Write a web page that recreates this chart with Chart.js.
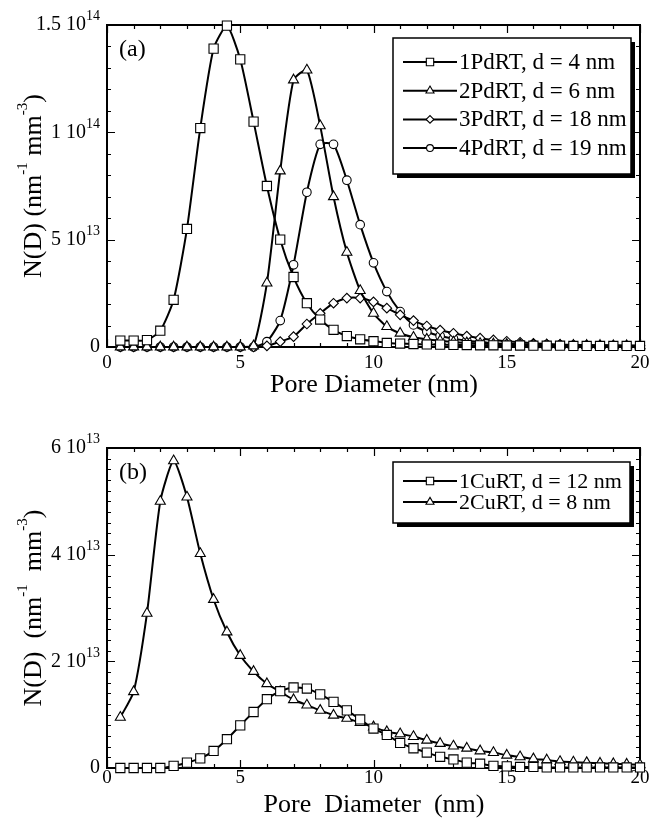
<!DOCTYPE html>
<html>
<head>
<meta charset="utf-8">
<script src="https://cdn.jsdelivr.net/npm/chart.js@4"></script>
<style>
  html, body { margin: 0; padding: 0; background: #fff; }
  #wrapA { position: absolute; left: 0; top: 0; width: 649px; height: 400px; }
  #wrapB { position: absolute; left: 0; top: 420px; width: 649px; height: 401px; }
</style>
</head>
<body>
<div id="wrapA"><canvas id="chartA"></canvas></div>
<div id="wrapB"><canvas id="chartB"></canvas></div>
<script>
const SERIF = '"Liberation Serif", "Times New Roman", serif'

// pore diameter (nm), shared by every series
const diameters = [0.5, 1, 1.5, 2, 2.5, 3, 3.5, 4, 4.5, 5, 5.5, 6, 6.5, 7, 7.5, 8, 8.5, 9, 9.5, 10,
  10.5, 11, 11.5, 12, 12.5, 13, 13.5, 14, 14.5, 15, 15.5, 16, 16.5, 17, 17.5, 18, 18.5, 19, 19.5, 20]

// panel (a), N(D) in units of 1e13 nm^-1 mm^-3
const pd1 = [0.30, 0.30, 0.32, 0.76, 2.2, 5.5, 10.2, 13.9, 14.97, 13.4, 10.5, 7.5, 5.0, 3.26, 2.04, 1.28, 0.8, 0.51, 0.36, 0.27,
  0.19, 0.16, 0.14, 0.12, 0.11, 0.10, 0.09, 0.08, 0.08, 0.07, 0.07, 0.06, 0.06, 0.06, 0.05, 0.05, 0.05, 0.05, 0.05, 0.05]
const pd2 = [0, 0, 0, 0, 0, 0, 0, 0, 0, 0, 0.05, 2.98, 8.2, 12.44, 12.9, 10.3, 7.0, 4.41, 2.63, 1.57,
  0.95, 0.64, 0.45, 0.36, 0.29, 0.23, 0.19, 0.16, 0.14, 0.12, 0.11, 0.10, 0.09, 0.08, 0.08, 0.07, 0.07, 0.06, 0.06, 0.06]
const pd3 = [0, 0, 0, 0, 0, 0, 0, 0, 0, 0, 0, 0.05, 0.25, 0.48, 1.07, 1.57, 2.04, 2.28, 2.28, 2.1,
  1.81, 1.5, 1.23, 0.98, 0.79, 0.64, 0.51, 0.41, 0.33, 0.27, 0.22, 0.17, 0.14, 0.12, 0.10, 0.09, 0.08, 0.07, 0.06, 0.06]
const pd4 = [0, 0, 0, 0, 0, 0, 0, 0, 0, 0, 0, 0.25, 1.23, 3.83, 7.21, 9.44, 9.44, 7.77, 5.7, 3.92,
  2.58, 1.65, 1.03, 0.71, 0.51, 0.39, 0.29, 0.23, 0.18, 0.15, 0.13, 0.11, 0.10, 0.09, 0.08, 0.07, 0.07, 0.06, 0.06, 0.06]

// panel (b)
const cu1 = [0, 0, 0, 0, 0.04, 0.1, 0.18, 0.32, 0.54, 0.8, 1.05, 1.29, 1.44, 1.51, 1.49, 1.38, 1.24, 1.08, 0.91, 0.74,
  0.62, 0.47, 0.37, 0.29, 0.21, 0.16, 0.10, 0.08, 0.04, 0.03, 0.02, 0.02, 0.01, 0.01, 0.01, 0.01, 0.01, 0.01, 0.01, 0.01]
const cu2 = [0.95, 1.43, 2.9, 5.0, 5.76, 5.08, 4.02, 3.16, 2.55, 2.11, 1.81, 1.58, 1.43, 1.28, 1.18, 1.08, 0.99, 0.93, 0.85, 0.77,
  0.68, 0.64, 0.59, 0.52, 0.46, 0.41, 0.37, 0.32, 0.29, 0.24, 0.21, 0.17, 0.15, 0.12, 0.11, 0.10, 0.09, 0.08, 0.07, 0.06]

const labelsA = ['1PdRT, d = 4 nm', '2PdRT, d = 6 nm', '3PdRT, d = 18 nm', '4PdRT, d = 19 nm']
const labelsB = ['1CuRT, d = 12 nm', '2CuRT, d = 8 nm']

// axis ticks
const xTicks = [0, 5, 10, 15, 20]
const yTicksA = [0, 5, 10, 15]
const yTickLabelsA = ['0', '5 10^13', '1 10^14', '1.5 10^14']
const yTicksB = [0, 2, 4, 6]
const yTickLabelsB = ['0', '2 10^13', '4 10^13', '6 10^13']

const points = vals => diameters.map((d, i) => ({ x: d, y: vals[i] }))

const markerSize = { rect: 6.5, triangle: 5.8, rectRot: 4.8, circle: 4.3 }

function series(label, vals, style) {
  return {
    label: label,
    data: points(vals),
    borderColor: '#000',
    borderWidth: 2,
    backgroundColor: '#fff',
    pointStyle: style,
    pointRadius: markerSize[style],
    pointBorderWidth: 1.1,
    pointBackgroundColor: '#fff',
    pointBorderColor: '#000',
    tension: 0.2,
    fill: false,
    clip: false
  }
}

function drawMarker(ctx, style, x, y, r) {
  ctx.beginPath()
  if (style === 'rect') {
    const s = r * Math.SQRT1_2
    ctx.rect(x - s, y - s, 2 * s, 2 * s)
  } else if (style === 'triangle') {
    for (let k = 0; k < 3; k++) {
      const a = k * 2 * Math.PI / 3
      ctx.lineTo(x + Math.sin(a) * r, y - Math.cos(a) * r)
    }
    ctx.closePath()
  } else if (style === 'rectRot') {
    ctx.moveTo(x - r, y); ctx.lineTo(x, y - r); ctx.lineTo(x + r, y); ctx.lineTo(x, y + r)
    ctx.closePath()
  } else {
    ctx.arc(x, y, r, 0, Math.PI * 2)
  }
  ctx.fillStyle = '#fff'
  ctx.fill()
  ctx.stroke()
}

function drawSupText(ctx, text, x, y, size, supSize, align) {
  const parts = text.split('^')
  ctx.font = size + 'px ' + SERIF
  const wb = ctx.measureText(parts[0]).width
  ctx.font = supSize + 'px ' + SERIF
  const ws = parts[1] ? ctx.measureText(parts[1]).width : 0
  const x0 = align === 'right' ? x - wb - ws : x
  ctx.textAlign = 'left'
  ctx.textBaseline = 'middle'
  ctx.font = size + 'px ' + SERIF
  ctx.fillText(parts[0], x0, y)
  if (parts[1]) {
    ctx.font = supSize + 'px ' + SERIF
    ctx.fillText(parts[1], x0 + wb, y - size * 0.42)
  }
}

// frame, inward ticks on all sides, axis labels and titles, panel tag, legend
const decor = {
  id: 'decor',
  beforeDatasetsDraw(chart, args, o) {
    const ctx = chart.ctx
    const a = chart.chartArea
    const xs = chart.scales.x, ys = chart.scales.y
    ctx.save()
    ctx.strokeStyle = '#000'
    ctx.lineWidth = 2
    ctx.strokeRect(a.left, a.top, a.right - a.left, a.bottom - a.top)
    ctx.lineWidth = 1.2
    ctx.beginPath()
    for (let v = xs.min; v <= xs.max + 1e-9; v += 1) {
      const px = Math.round(xs.getPixelForValue(v)) + 0.5
      const len = xTicks.includes(v) ? 8 : 4
      ctx.moveTo(px, a.bottom); ctx.lineTo(px, a.bottom - len)
      ctx.moveTo(px, a.top); ctx.lineTo(px, a.top + len)
    }
    for (let v = ys.min; v <= ys.max + 1e-9; v += o.minorY) {
      const py = Math.round(ys.getPixelForValue(v)) + 0.5
      const major = o.yTicks.some(t => Math.abs(t - v) < 1e-6)
      const len = major ? 8 : 4
      ctx.moveTo(a.left, py); ctx.lineTo(a.left + len, py)
      ctx.moveTo(a.right, py); ctx.lineTo(a.right - len, py)
    }
    ctx.stroke()

    ctx.fillStyle = '#000'
    o.yTicks.forEach((v, i) => {
      drawSupText(ctx, o.yTickLabels[i], a.left - 7, ys.getPixelForValue(v), 20, 14, 'right')
    })

    // x tick labels and x title
    ctx.textAlign = 'center'
    ctx.textBaseline = 'middle'
    ctx.font = '19px ' + SERIF
    xTicks.forEach(v => ctx.fillText(String(v), xs.getPixelForValue(v), a.bottom + o.xLabelGap))
    ctx.font = '26px ' + SERIF
    ctx.fillText(o.xTitle, Math.round((a.left + a.right) / 2), Math.round(a.bottom + o.xTitleGap))

    // rotated y title with superscripts
    const parts = o.yTitle
    ctx.translate(o.yTitleX, (a.top + a.bottom) / 2)
    ctx.rotate(-Math.PI / 2)
    let total = 0
    parts.forEach(p => {
      ctx.font = (p[1] ? 15 : 26) + 'px ' + SERIF
      total += ctx.measureText(p[0]).width
    })
    let cx = -total / 2
    ctx.textAlign = 'left'
    ctx.textBaseline = 'middle'
    parts.forEach(p => {
      ctx.font = (p[1] ? 15 : 26) + 'px ' + SERIF
      ctx.fillText(p[0], cx, p[1] ? -11 : 0)
      cx += ctx.measureText(p[0]).width
    })
    ctx.restore()
  },
  afterDraw(chart, args, o) {
    const ctx = chart.ctx
    const a = chart.chartArea
    ctx.save()
    ctx.fillStyle = '#000'
    ctx.font = '24px ' + SERIF
    ctx.textAlign = 'left'
    ctx.textBaseline = 'middle'
    ctx.fillText(o.tag, a.left + 12, a.top + 25)

    const L = o.legend
    ctx.fillStyle = '#000'
    ctx.fillRect(L.x + 4, L.y + 4, L.w, L.h)
    ctx.fillStyle = '#fff'
    ctx.fillRect(L.x, L.y, L.w, L.h)
    ctx.strokeStyle = '#000'
    ctx.lineWidth = 1.5
    ctx.strokeRect(L.x, L.y, L.w, L.h)
    chart.data.datasets.forEach((ds, i) => {
      const y = L.row0 + i * L.step
      ctx.lineWidth = 2
      ctx.beginPath()
      ctx.moveTo(L.x + 10, y); ctx.lineTo(L.x + 64, y)
      ctx.stroke()
      ctx.lineWidth = 1.1
      drawMarker(ctx, ds.pointStyle, L.x + 37, y, ds.pointRadius * 0.8)
      ctx.fillStyle = '#000'
      ctx.font = L.font + 'px ' + SERIF
      ctx.textAlign = 'left'
      ctx.textBaseline = 'middle'
      ctx.fillText(ds.label, L.x + 66, y + 1)
    })
    ctx.restore()
  }
}

function makeConfig(datasets, yMax, padTop, decorOpts) {
  return {
    type: 'line',
    data: { datasets: datasets },
    options: {
      animation: false,
      responsive: true,
      maintainAspectRatio: false,
      layout: { padding: { top: padTop, right: 9, left: 0, bottom: 0 } },
      scales: {
        x: {
          type: 'linear', min: 0, max: 20,
          ticks: { display: false },
          grid: { display: false, drawTicks: false },
          border: { display: false },
          afterFit: s => { s.height = 53 }
        },
        y: {
          min: 0, max: yMax,
          ticks: { display: false },
          grid: { display: false, drawTicks: false },
          border: { display: false },
          afterFit: s => { s.width = 107 }
        }
      },
      plugins: {
        legend: { display: false },
        tooltip: { enabled: false },
        decor: decorOpts
      }
    },
    plugins: [decor]
  }
}

new Chart(document.getElementById('chartA'), makeConfig(
  [
    series(labelsA[0], pd1, 'rect'),
    series(labelsA[1], pd2, 'triangle'),
    series(labelsA[2], pd3, 'rectRot'),
    series(labelsA[3], pd4, 'circle')
  ],
  15, 25,
  {
    tag: '(a)', yTicks: yTicksA, yTickLabels: yTickLabelsA, minorY: 1, yTitleX: 34,
    xTitle: 'Pore Diameter (nm)', xLabelGap: 16, xTitleGap: 38,
    yTitle: [['N(D) (nm', 0], ['-1', 1], [' mm', 0], ['-3', 1], [')', 0]],
    legend: { x: 393, y: 38, w: 238, h: 136, row0: 62, step: 28.7, font: 23 }
  }
))

new Chart(document.getElementById('chartB'), makeConfig(
  [
    series(labelsB[0], cu1, 'rect'),
    series(labelsB[1], cu2, 'triangle')
  ],
  6, 28,
  {
    tag: '(b)', yTicks: yTicksB, yTickLabels: yTickLabelsB, minorY: 0.2, yTitleX: 34,
    xTitle: 'Pore  Diameter  (nm)', xLabelGap: 10, xTitleGap: 37,
    yTitle: [['N(D)  (nm', 0], ['-1', 1], ['  mm', 0], ['-3', 1], [')', 0]],
    legend: { x: 393, y: 42, w: 237, h: 61, row0: 61, step: 21, font: 22 }
  }
))
</script>
</body>
</html>
